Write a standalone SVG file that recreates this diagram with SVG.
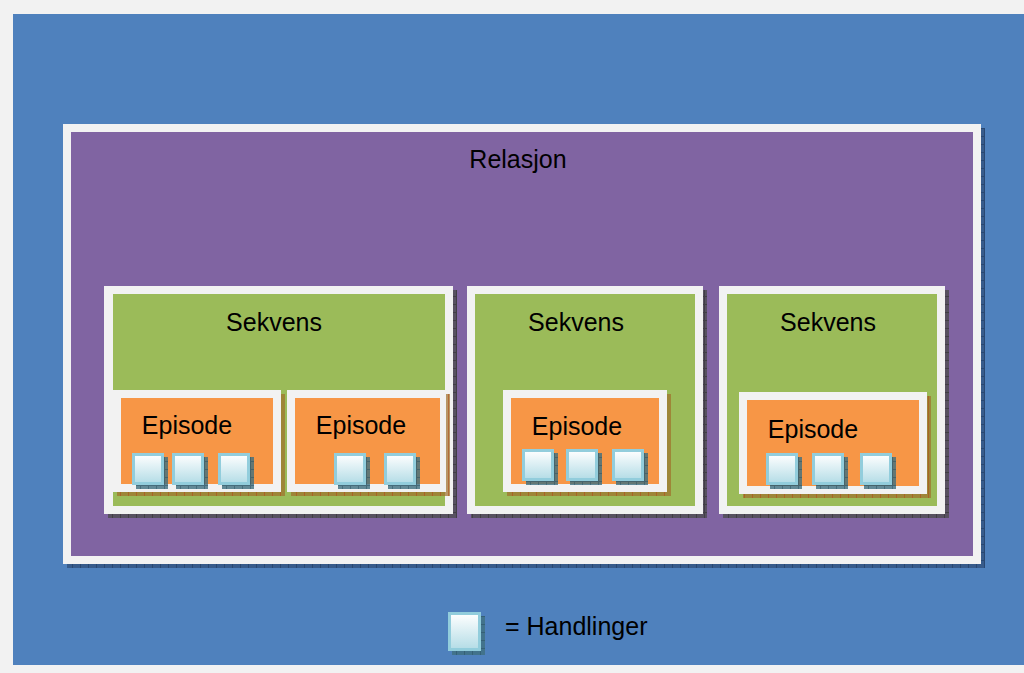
<svg xmlns="http://www.w3.org/2000/svg" width="1024" height="673" viewBox="0 0 1024 673">
  <defs>
    <style>
      .frame { fill: #F2F2F2; }
      .rel { fill: #8064A2; }
      .seq { fill: #9BBB59; }
      .epi { fill: #F79646; }
      .lbl { font-family: "Liberation Sans", Arial, sans-serif; font-size: 25px; fill: #000; }
      .sh-blue { fill: url(#hatchBlue); }
      .sh-purple { fill: url(#hatchPurple); }
      .sh-green { fill: url(#hatchGreen); }
      .sh-act { fill: url(#hatchAct); }
    </style>
    <!-- hatched drop shadows -->
    <pattern id="hatchBlue" width="8" height="8" patternUnits="userSpaceOnUse">
      <rect width="8" height="8" fill="#2f4e7a" fill-opacity="0.75"/>
      <path d="M0 0.5H8M0.5 0V8" stroke="#1f3a60" stroke-width="1" opacity="0.6"/>
    </pattern>
    <pattern id="hatchPurple" width="8" height="8" patternUnits="userSpaceOnUse">
      <rect width="8" height="8" fill="#4a4a4a" fill-opacity="0.75"/>
      <path d="M0 0.5H8M0.5 0V8" stroke="#333" stroke-width="1" opacity="0.6"/>
    </pattern>
    <pattern id="hatchGreen" width="8" height="8" patternUnits="userSpaceOnUse">
      <rect width="8" height="8" fill="#a0702a" fill-opacity="0.7"/>
      <path d="M0.5 0V8" stroke="#b0501a" stroke-width="1" opacity="0.6"/>
    </pattern>
    <pattern id="hatchAct" width="8" height="8" patternUnits="userSpaceOnUse">
      <rect width="8" height="8" fill="#3f6f80" fill-opacity="0.8"/>
      <path d="M0 0.5H8M0.5 0V8" stroke="#2a5060" stroke-width="1" opacity="0.5"/>
    </pattern>
    <linearGradient id="actFill" x1="0" y1="0" x2="0" y2="1">
      <stop offset="0" stop-color="#FFFFFF"/>
      <stop offset="1" stop-color="#B3DCE6"/>
    </linearGradient>
    <!-- one action block: shadow + tile -->
    <g id="act">
      <rect class="sh-act" x="4" y="4" width="32" height="32"/>
      <rect x="1.5" y="1.5" width="29" height="29" fill="url(#actFill)" stroke="#92CDDC" stroke-width="3"/>
    </g>
  </defs>

  <!-- page -->
  <rect width="1024" height="673" fill="#F2F2F2"/>
  <rect x="13" y="14" width="1011" height="651" fill="#4F81BD"/>

  <!-- relation -->
  <g id="relasjon">
    <rect class="sh-blue" x="67" y="128" width="918" height="440"/>
    <rect class="frame" x="63" y="124" width="918" height="440"/>
    <rect class="rel" x="71" y="132" width="902" height="424"/>
    <text class="lbl" x="518" y="168" text-anchor="middle">Relasjon</text>
  </g>

  <!-- sequence 1 -->
  <g id="sekvens1">
    <rect class="sh-purple" x="108" y="290" width="349" height="228"/>
    <rect class="frame" x="104" y="286" width="349" height="228"/>
    <rect class="seq" x="113" y="294" width="332" height="212"/>
    <text class="lbl" x="274" y="331" text-anchor="middle">Sekvens</text>
  </g>
  <g id="episode1">
    <rect class="sh-green" x="117" y="394" width="168" height="102"/>
    <rect class="frame" x="113" y="390" width="168" height="102"/>
    <rect class="epi" x="121" y="398" width="152" height="86"/>
    <text class="lbl" x="187" y="434" text-anchor="middle">Episode</text>
    <use href="#act" x="132" y="453"/>
    <use href="#act" x="172" y="453"/>
    <use href="#act" x="218" y="453"/>
  </g>
  <g id="episode2">
    <rect class="sh-green" x="291" y="394" width="159" height="102"/>
    <rect class="frame" x="287" y="390" width="159" height="102"/>
    <rect class="epi" x="295" y="398" width="145" height="86"/>
    <text class="lbl" x="361" y="434" text-anchor="middle">Episode</text>
    <use href="#act" x="334" y="453"/>
    <use href="#act" x="384" y="453"/>
  </g>

  <!-- sequence 2 -->
  <g id="sekvens2">
    <rect class="sh-purple" x="471" y="290" width="236" height="228"/>
    <rect class="frame" x="467" y="286" width="236" height="228"/>
    <rect class="seq" x="475" y="294" width="220" height="212"/>
    <text class="lbl" x="576" y="331" text-anchor="middle">Sekvens</text>
  </g>
  <g id="episode3">
    <rect class="sh-green" x="507" y="394" width="164" height="102"/>
    <rect class="frame" x="503" y="390" width="164" height="102"/>
    <rect class="epi" x="511" y="398" width="148" height="86"/>
    <text class="lbl" x="577" y="435" text-anchor="middle">Episode</text>
    <use href="#act" x="522" y="449"/>
    <use href="#act" x="566" y="449"/>
    <use href="#act" x="612" y="449"/>
  </g>

  <!-- sequence 3 -->
  <g id="sekvens3">
    <rect class="sh-purple" x="723" y="290" width="226" height="228"/>
    <rect class="frame" x="719" y="286" width="226" height="228"/>
    <rect class="seq" x="727" y="294" width="210" height="212"/>
    <text class="lbl" x="828" y="331" text-anchor="middle">Sekvens</text>
  </g>
  <g id="episode4">
    <rect class="sh-green" x="743" y="396" width="188" height="102"/>
    <rect class="frame" x="739" y="392" width="188" height="102"/>
    <rect class="epi" x="747" y="400" width="172" height="86"/>
    <text class="lbl" x="813" y="438" text-anchor="middle">Episode</text>
    <use href="#act" x="766" y="453"/>
    <use href="#act" x="812" y="453"/>
    <use href="#act" x="860" y="453"/>
  </g>

  <!-- legend -->
  <g id="legend">
    <rect class="sh-act" x="452" y="616" width="33" height="39"/>
    <rect x="449.5" y="613.5" width="30" height="36" fill="url(#actFill)" stroke="#92CDDC" stroke-width="3"/>
    <text class="lbl" x="505" y="635" font-size="26">= Handlinger</text>
  </g>
</svg>
